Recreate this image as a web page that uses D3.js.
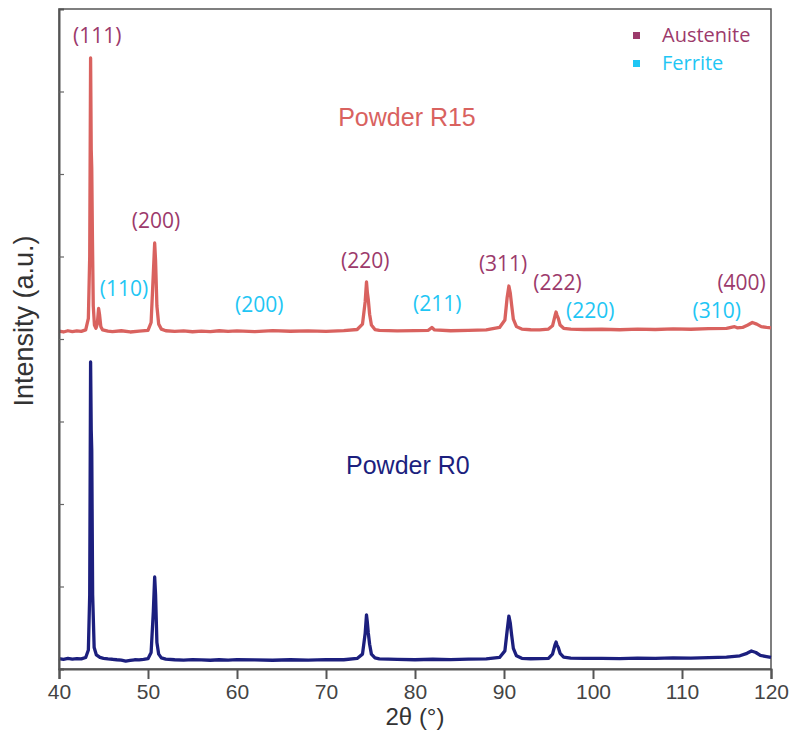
<!DOCTYPE html>
<html>
<head>
<meta charset="utf-8">
<script src="https://cdn.jsdelivr.net/npm/d3@7"></script>
<style>
  html, body { margin: 0; padding: 0; background: #ffffff; }
  svg { display: block; }
</style>
</head>
<body>
<div id="chart"></div>
<script>
// ---------- DATA ----------
const xTicks = [40, 50, 60, 70, 80, 90, 100, 110, 120];
const yTicks = [1000, 2000, 3000, 4000, 5000, 6000, 7000];

// Powder R0 pattern: [2θ, intensity (a.u.)]
const r0Pattern = [
  [40,125],[40.5,118],[41,128],[41.5,120],[42,126],[42.5,122],[43,140],[43.3,230],[43.45,900],[43.55,3721],
  [43.62,2900],[43.68,2650],[43.78,900],[43.95,260],[44.2,170],[44.6,140],[45,130],[45.5,122],[46,118],[46.5,112],
  [47,108],[47.5,96],[48,104],[48.5,112],[49,110],[49.5,116],[50,125],[50.35,200],[50.6,700],[50.75,1115],
  [50.85,900],[51.0,320],[51.2,180],[51.5,135],[52,120],[53,112],[54,108],[55,114],[56,110],[57,106],
  [58,112],[59,108],[60,114],[62,110],[64,106],[66,112],[68,108],[70,114],[72,112],[73.5,128],
  [74.1,180],[74.4,430],[74.55,655],[74.65,560],[74.75,440],[74.9,300],[75.1,180],[75.5,135],[76,122],[78,116],
  [80,112],[82,118],[84,114],[86,120],[88,122],[89.5,140],[90.1,220],[90.35,460],[90.55,642],[90.7,560],
  [90.85,420],[91.05,250],[91.4,160],[92,130],[93,124],[94,126],[95,130],[95.45,180],[95.75,300],[95.85,327],
  [95.95,290],[96.1,260],[96.3,190],[96.7,145],[97.5,132],[99,128],[101,130],[103,126],[105,132],[107,128],
  [109,136],[111,132],[113,138],[115,145],[116.5,160],[117.3,190],[117.8,218],[118.3,200],[118.8,165],[119.5,150],
  [120,140]
];

// Powder R15 pattern (offset above R0): [2θ, intensity (a.u.)]
const r15Pattern = [
  [40,4095],[40.5,4085],[41,4100],[41.5,4090],[42,4098],[42.5,4092],[43,4110],[43.3,4250],[43.45,5000],[43.55,7406],
  [43.62,6300],[43.68,6070],[43.76,5200],[43.85,4400],[43.98,4170],[44.15,4130],[44.3,4180],[44.45,4370],[44.55,4300],[44.7,4150],
  [44.9,4110],[45.5,4095],[46,4090],[47,4100],[48,4085],[49,4095],[50,4105],[50.35,4200],[50.6,4800],[50.75,5164],
  [50.85,4950],[51.0,4400],[51.2,4180],[51.5,4120],[52,4100],[53,4092],[54,4098],[55,4088],[56,4096],[57,4090],
  [58,4100],[59,4092],[60,4098],[62,4090],[64,4102],[66,4094],[68,4098],[70,4092],[72,4102],[73.5,4115],
  [74.1,4180],[74.4,4450],[74.55,4691],[74.65,4560],[74.75,4480],[74.9,4300],[75.1,4170],[75.5,4115],[76,4105],[78,4098],
  [80,4102],[81.5,4105],[81.9,4140],[82.2,4110],[84,4100],[86,4105],[88,4110],[89.5,4140],[90.1,4230],[90.35,4500],
  [90.55,4642],[90.7,4560],[90.85,4420],[91.05,4240],[91.4,4150],[92,4120],[93,4112],[94,4110],[95,4120],[95.45,4160],
  [95.75,4290],[95.85,4327],[95.95,4290],[96.1,4250],[96.3,4170],[96.7,4130],[97.5,4120],[99,4115],[101,4118],[103,4112],
  [105,4120],[107,4115],[109,4122],[111,4118],[113,4125],[115,4130],[115.9,4150],[116.2,4135],[116.8,4140],[117.4,4170],
  [117.9,4200],[118.4,4180],[118.9,4150],[119.5,4140],[120,4135]
];

// Reflection labels: text, phase, 2θ position, intensity position
const reflectionText  = ["(111)", "(110)", "(200)", "(200)", "(220)", "(211)", "(311)", "(222)", "(220)", "(310)", "(400)"];
const reflectionPhase = ["Austenite", "Ferrite", "Austenite", "Ferrite", "Austenite", "Ferrite", "Austenite", "Austenite", "Ferrite", "Ferrite", "Austenite"];
const reflectionTheta = [44.3, 47.3, 50.9, 62.5, 74.4, 82.5, 89.9, 96.0, 99.7, 113.9, 116.7];
const reflectionInt   = [7590, 4520, 5345, 4330, 4860, 4340, 4825, 4595, 4250, 4250, 4595];

const phases = ["Austenite", "Ferrite"];
const seriesNames = ["Powder R15", "Powder R0"];
const seriesLabelTheta = [79.1, 79.2];
const seriesLabelInt = [6582, 2364];

// ---------- LAYOUT ----------
const W = 793, H = 736;
const mLeft = 59, mRight = 771, mTop = 9, mBottom = 669;

const svg = d3.select("#chart").append("svg")
  .attr("width", W).attr("height", H)
  .style("background", "#ffffff");

const x = d3.scaleLinear().domain([40, 120]).range([mLeft, mRight]);
const y = d3.scaleLinear().domain([0, 8000]).range([mBottom, mTop]);

const phaseColor = d3.scaleOrdinal().domain(phases).range(["#9c3a6b", "#1fc6f4"]);
const seriesColor = d3.scaleOrdinal().domain(seriesNames).range(["#d9625f", "#1c1f7e"]);

// frame
svg.append("rect")
  .attr("x", mLeft).attr("y", mTop)
  .attr("width", mRight - mLeft).attr("height", mBottom - mTop)
  .attr("fill", "none").attr("stroke", "#555").attr("stroke-width", 1.5);

// lines
const line = d3.line().x(d => x(d[0])).y(d => y(d[1]));
const plot = svg.append("g");
[[r15Pattern, "Powder R15"], [r0Pattern, "Powder R0"]].forEach(([data, name]) => {
  plot.append("path")
    .datum(data)
    .attr("fill", "none")
    .attr("stroke", seriesColor(name))
    .attr("stroke-width", 3.3)
    .attr("stroke-linejoin", "round")
    .attr("d", line);
});

// axes
const xAxis = svg.append("g")
  .attr("transform", `translate(0,${mBottom})`)
  .call(d3.axisBottom(x).tickValues(xTicks).tickSize(10).tickPadding(5).tickFormat(d3.format("d")));
xAxis.select(".domain").attr("stroke", "#555").attr("stroke-width", 2);
xAxis.selectAll(".tick line").attr("stroke", "#555").attr("stroke-width", 2);
xAxis.selectAll(".tick text")
  .attr("fill", "#444")
  .style("font-family", "'Liberation Sans', Arial, sans-serif")
  .style("font-size", "21px");

const yAxis = svg.append("g")
  .attr("transform", `translate(${mLeft},0)`)
  .call(d3.axisLeft(y).tickValues(yTicks).tickSize(-5).tickFormat(""));
yAxis.select(".domain").attr("stroke", "#555").attr("stroke-width", 2);
yAxis.selectAll(".tick line").attr("stroke", "#666").attr("stroke-width", 1.2);

// axis titles
svg.append("text")
  .attr("x", (mLeft + mRight) / 2).attr("y", 725)
  .attr("text-anchor", "middle")
  .attr("fill", "#333")
  .style("font-family", "'Liberation Sans', Arial, sans-serif")
  .style("font-size", "24px")
  .text("2θ (°)");

svg.append("text")
  .attr("transform", "translate(33,321) rotate(-90)")
  .attr("text-anchor", "middle")
  .attr("fill", "#333")
  .style("font-family", "'Liberation Sans', Arial, sans-serif")
  .style("font-size", "27px")
  .text("Intensity (a.u.)");

// series labels
seriesNames.forEach((name, i) => {
  svg.append("text")
    .attr("x", x(seriesLabelTheta[i])).attr("y", y(seriesLabelInt[i]))
    .attr("text-anchor", "middle")
    .attr("fill", seriesColor(name))
    .style("font-family", "'Liberation Sans', Arial, sans-serif")
    .style("font-size", "25px")
    .text(name);
});

// reflection labels
reflectionText.forEach((t, i) => {
  svg.append("text")
    .attr("x", x(reflectionTheta[i])).attr("y", y(reflectionInt[i]))
    .attr("text-anchor", "middle")
    .attr("fill", phaseColor(reflectionPhase[i]))
    .style("font-family", "'Open Sans', sans-serif")
    .style("font-size", "21px")
    .text(t);
});

// legend
const legend = svg.append("g").attr("transform", "translate(633,32)");
phases.forEach((p, i) => {
  const g = legend.append("g").attr("transform", `translate(0,${i * 28})`);
  g.append("rect").attr("x", 0).attr("y", 0).attr("width", 7).attr("height", 7).attr("fill", phaseColor(p));
  g.append("text").attr("x", 29).attr("y", 10)
    .attr("fill", phaseColor(p))
    .style("font-family", "'Open Sans', sans-serif")
    .style("font-size", "20px")
    .text(p);
});
</script>
</body>
</html>
